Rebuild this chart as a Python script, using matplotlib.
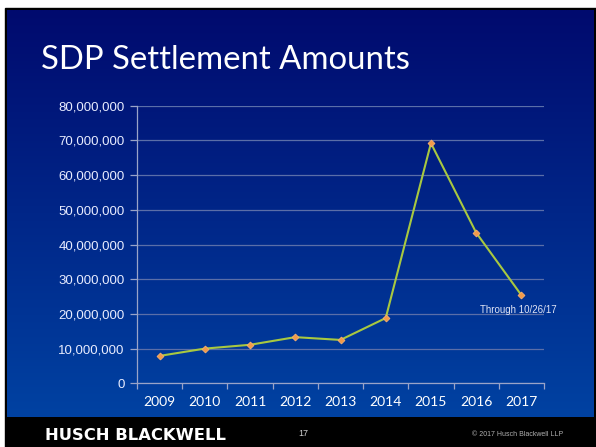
import numpy as np
import matplotlib
matplotlib.use("Agg")
import matplotlib.pyplot as plt
from matplotlib.ticker import FuncFormatter, FixedLocator

years = ["2009", "2010", "2011", "2012", "2013", "2014", "2015", "2016", "2017"]
amounts = [7.9e6, 10.0e6, 11.1e6, 13.3e6, 12.5e6, 18.8e6, 69.2e6, 43.4e6, 25.4e6]
yticks = [0, 10e6, 20e6, 30e6, 40e6, 50e6, 60e6, 70e6, 80e6]
title = "SDP Settlement Amounts"
note = "Through 10/26/17"

W, H = 596, 447
fig = plt.figure(figsize=(W / 100, H / 100), dpi=100)
fig.patch.set_facecolor("white")

# background slide
bg = fig.add_axes([0, 0, 1, 1])
bg.set_xlim(0, W)
bg.set_ylim(H, 0)
bg.axis("off")
top = np.array([0, 10, 110]) / 255
bot = np.array([0, 66, 162]) / 255
t = np.linspace(0, 1, 256)[:, None]
grad = (top[None, :] * (1 - t) + bot[None, :] * t)[:, None, :]
grad = np.repeat(grad, 2, axis=1)
bg.add_patch(plt.Rectangle((5, 8), W - 5, H - 8, color="black", zorder=0))
bg.imshow(grad, extent=(7, 594, 417, 10), aspect="auto", zorder=1, interpolation="bilinear")

bg.text(41, 60, title, color="white", fontsize=23.7, family="Lato", va="center", ha="left")
bg.text(45, 435, "HUSCH BLACKWELL", color="white", fontsize=11.8, family="DejaVu Sans",
        weight="bold", va="center", ha="left")
bg.text(298, 434, "17", color="#d0d0d0", fontsize=6.5, family="Liberation Sans", va="center", ha="left")
bg.text(563, 434, "© 2017 Husch Blackwell LLP", color="#b0b0b0", fontsize=5, family="Liberation Sans",
        va="center", ha="right")

ax = fig.add_axes([137 / W, 1 - 383.3 / H, 407 / W, 277.6 / H])
ax.patch.set_alpha(0)
x = np.arange(len(years))
ax.plot(x, amounts, color="#a8c840", lw=1.5, zorder=3)
ax.plot(x, amounts, ls="none", marker="D", ms=3.5, color="#f29a4a", mec="#f6b070", mew=0.6, zorder=4)
ax.set_xlim(-0.5, len(years) - 0.5)
ax.set_ylim(0, 80e6)
ax.set_yticks(yticks)
ax.yaxis.set_major_formatter(FuncFormatter(lambda v, p: f"{int(v):,}"))
ax.grid(axis="y", color="#5a6ea8", lw=0.9)
ax.set_axisbelow(True)
ax.set_xticks(x)
ax.set_xticklabels(years)
ax.xaxis.set_minor_locator(FixedLocator(np.arange(-0.5, len(years), 1.0)))
ax.tick_params(axis="x", which="major", length=0, pad=9, labelsize=10, labelcolor="white")
ax.tick_params(axis="x", which="minor", length=4, color="#9aa4c8", width=0.9)
ax.tick_params(axis="y", length=5, color="#9aa4c8", width=0.9, labelsize=9.5, labelcolor="#e8ecff", pad=4)
for lab in ax.get_xticklabels():
    lab.set_family("Lato")
for lab in ax.get_yticklabels():
    lab.set_family("Liberation Sans")
for s in ["top", "right"]:
    ax.spines[s].set_visible(False)
for s in ["left", "bottom"]:
    ax.spines[s].set_color("#9aa4c8")
    ax.spines[s].set_linewidth(0.9)
ax.annotate(note, xy=(x[-1], amounts[-1]), xytext=(-41, -15), textcoords="offset pixels",
            color="#e0e4f4", fontsize=7, family="Liberation Sans", va="center", ha="left")

fig.savefig("out.png", dpi=100, facecolor=fig.get_facecolor())
